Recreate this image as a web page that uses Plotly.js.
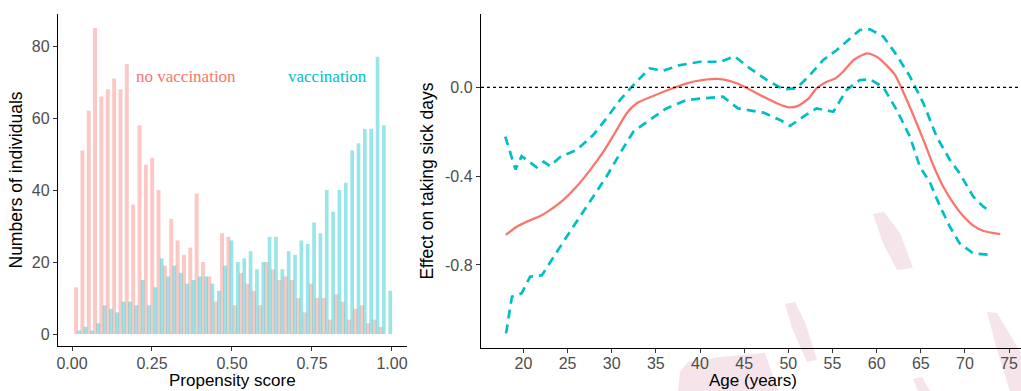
<!DOCTYPE html>
<html><head><meta charset="utf-8">
<script src="https://cdn.plot.ly/plotly-3.0.1.min.js"></script>
<style>html,body{margin:0;padding:0;background:#fff}#chart{width:1021px;height:391px}</style>
</head><body><div id="chart"></div>
<script>
// ---------- Left panel: propensity score histogram ----------
const binStart = 0.0175;
const binWidth = 0.01984;
const noVaccination = [13,51,62,85,66,68,71,68,75,36,58,47,49,40,19,32,26,22,24,39,20,16,9,28,27,8,17,14,12,8,20,18,15,16,15,10,6,14,10,10,4,11,9,4,7,8,3,4,2,0];
const vaccination   = [1,2,1,3,8,7,6,9,9,8,15,8,13,21,16,19,17,14,15,16,16,14,12,19,26,20,21,23,18,20,27,27,18,23,22,26,25,31,28,40,34,40,42,51,53,57,57,77,58,12];
const propTickVals = [0, 0.25, 0.5, 0.75, 1];
const propTickText = ['0.00','0.25','0.50','0.75','1.00'];
const countTickVals = [0, 20, 40, 60, 80];

// ---------- Right panel: effect by age ----------
const ageMean = [18.0,19.25,20.4,21.9,23.0,24.5,26.0,27.55,29.06,30.57,31.7,32.84,34.7,36.6,38.5,40.4,42.3,44.3,46.8,48.7,50.0,51.1,52.3,53.2,54.35,55.3,56.2,57.4,58.9,60.0,61.1,62.1,63.0,64.15,65.3,66.4,67.55,68.7,69.8,70.95,72.1,74.0];
const effectMean = [-0.665,-0.628,-0.605,-0.58,-0.553,-0.508,-0.448,-0.373,-0.29,-0.192,-0.117,-0.072,-0.039,-0.009,0.018,0.033,0.037,0.016,-0.035,-0.072,-0.09,-0.084,-0.05,-0.005,0.025,0.04,0.07,0.123,0.153,0.138,0.1,0.055,-0.02,-0.125,-0.237,-0.35,-0.448,-0.523,-0.58,-0.623,-0.647,-0.661];
const ageUpper = [17.95,19.1,19.8,21.5,22.3,23.0,24.2,26.05,27.9,29.4,30.95,32.8,34.3,35.85,37.74,40.0,42.3,43.9,45.66,47.55,49.43,50.9,52.45,53.96,55.5,56.6,58.1,59.25,60.76,62.27,63.78,65.3,66.8,68.3,69.4,70.95,72.08,73.0];
const effectUpper = [-0.222,-0.37,-0.31,-0.36,-0.335,-0.355,-0.313,-0.282,-0.215,-0.14,-0.057,0.025,0.085,0.075,0.1,0.115,0.115,0.14,0.085,0.033,-0.009,-0.005,0.055,0.123,0.168,0.205,0.258,0.261,0.228,0.145,0.048,-0.072,-0.223,-0.327,-0.387,-0.493,-0.538,-0.56];
const ageLower = [18.04,18.7,19.8,20.76,22.1,23.4,24.9,26.4,27.9,29.4,30.95,32.45,34.3,36.2,38.5,40.76,42.6,44.3,47.17,49.06,50.2,51.7,53.2,55.1,56.6,58.1,59.25,60.76,62.27,63.78,64.9,66.0,67.2,68.3,69.4,70.95,73.0];
const effectLower = [-1.108,-0.943,-0.928,-0.853,-0.846,-0.763,-0.673,-0.583,-0.493,-0.403,-0.297,-0.2,-0.147,-0.095,-0.057,-0.05,-0.042,-0.095,-0.114,-0.147,-0.174,-0.132,-0.095,-0.11,-0.012,0.033,0.036,0.0,-0.102,-0.223,-0.358,-0.425,-0.538,-0.628,-0.703,-0.748,-0.755];
const ageTickVals = [20,25,30,35,40,45,50,55,60,65,70,75];
const effectTickVals = [0, -0.4, -0.8];
const effectTickText = ['0.0', '-0.4', '-0.8'];

const PINK = '#F8766D', CYAN = '#00BFC4';
const binCenters = noVaccination.map((_, i) => binStart + i * binWidth);

const FONT = 'Liberation Sans, Arial, sans-serif';
const tickFont = {family: FONT, size: 16, color: '#4D4D4D'};
const titleFont = {family: FONT, size: 17.5, color: '#000'};
const xTitleFont = {family: FONT, size: 17, color: '#000'};

const traces = [
  {type: 'bar', x: binCenters, y: noVaccination, offset: -0.011, width: 0.0122,
   marker: {color: 'rgba(248,118,109,0.4)', line: {width: 0}}, xaxis: 'x', yaxis: 'y', hoverinfo: 'skip'},
  {type: 'bar', x: binCenters, y: vaccination, offset: -0.0008, width: 0.0115,
   marker: {color: 'rgba(0,191,196,0.4)', line: {width: 0}}, xaxis: 'x', yaxis: 'y', hoverinfo: 'skip'},
  {type: 'scatter', mode: 'lines', x: ageUpper, y: effectUpper, xaxis: 'x2', yaxis: 'y2',
   line: {color: CYAN, width: 2.7, dash: '9px,6px'}},
  {type: 'scatter', mode: 'lines', x: ageLower, y: effectLower, xaxis: 'x2', yaxis: 'y2',
   line: {color: CYAN, width: 2.7, dash: '9px,6px'}},
  {type: 'scatter', mode: 'lines', x: ageMean, y: effectMean, xaxis: 'x2', yaxis: 'y2',
   line: {color: PINK, width: 2.3, shape: 'spline', smoothing: 0.6}}
];

// faint pink watermark blobs visible in the reference (decoration, pixel space)
const wm = [
  [[678,391],[680,372],[688,362],[720,357],[765,353],[778,391]],
  [[873,214],[884,212],[900,233],[913,268],[897,270],[883,243]],
  [[785,304],[795,302],[805,322],[817,360],[807,362],[792,328]],
  [[987,312],[997,313],[1021,353],[1021,391],[1010,391],[997,350]],
  [[913,379],[922,377],[930,391],[918,391]]
];
const toPaper = p => [(p[0]/1021).toFixed(4), ((348 - p[1]) / 334).toFixed(4)];
const shapes = wm.map(poly => ({
  type: 'path', xref: 'paper', yref: 'paper', layer: 'below',
  path: 'M' + poly.map(p => toPaper(p).join(',')).join(' L') + ' Z',
  fillcolor: 'rgba(205,120,150,0.2)', line: {width: 0}
}));
shapes.push({type: 'line', xref: 'x2 domain', yref: 'y2', x0: 0, x1: 1, y0: 0, y1: 0,
  line: {color: '#000', width: 1.2, dash: 'dot'}});

const axisCommon = {showline: true, linecolor: '#000', linewidth: 1.2, ticks: 'outside',
  ticklen: 4, tickcolor: '#333', tickwidth: 1, showgrid: false, zeroline: false,
  tickfont: tickFont, fixedrange: true};

const layout = {
  width: 1021, height: 391,
  margin: {l: 0, r: 0, t: 14, b: 43},
  paper_bgcolor: '#fff', plot_bgcolor: 'rgba(0,0,0,0)',
  barmode: 'overlay', showlegend: false,
  xaxis: Object.assign({}, axisCommon, {domain: [58/1021, 407/1021], anchor: 'y',
    range: [-0.04375, 1.047], tickvals: propTickVals, ticktext: propTickText, ticklabelstandoff: -1}),
  yaxis: Object.assign({}, axisCommon, {domain: [2/334, 1], anchor: 'x',
    range: [-3.33, 88.9], tickvals: countTickVals,
    title: {text: 'Numbers of individuals', font: titleFont, standoff: 4}}),
  xaxis2: Object.assign({}, axisCommon, {domain: [481/1021, 1], anchor: 'y2',
    range: [15.2, 76.35], tickvals: ageTickVals, ticklabelstandoff: -3}),
  yaxis2: Object.assign({}, axisCommon, {domain: [0, 1], anchor: 'x2',
    range: [-1.174, 0.33], tickvals: effectTickVals, ticktext: effectTickText,
    title: {text: 'Effect on taking sick days', font: titleFont, standoff: 6}}),
  annotations: [
    {xref: 'x', yref: 'y', x: 0.356, y: 71.5, text: 'no vaccination', showarrow: false,
     font: {family: 'Liberation Serif, Times New Roman, serif', size: 17, color: PINK}},
    {xref: 'x', yref: 'y', x: 0.797, y: 71.5, text: 'vaccination', showarrow: false,
     font: {family: 'Liberation Serif, Times New Roman, serif', size: 17, color: CYAN}},
    // x-axis titles placed just below the tick labels
    {xref: 'x domain', yref: 'paper', x: 0.5, y: (348 - 380.5) / 334, yanchor: 'middle',
     text: 'Propensity score', showarrow: false, font: xTitleFont},
    {xref: 'x2 domain', yref: 'paper', x: 0.503, y: (348 - 380.5) / 334, yanchor: 'middle',
     text: 'Age (years)', showarrow: false, font: xTitleFont}
  ],
  shapes: shapes
};

Plotly.newPlot('chart', traces, layout, {displayModeBar: false, staticPlot: true});
</script>
</body></html>
